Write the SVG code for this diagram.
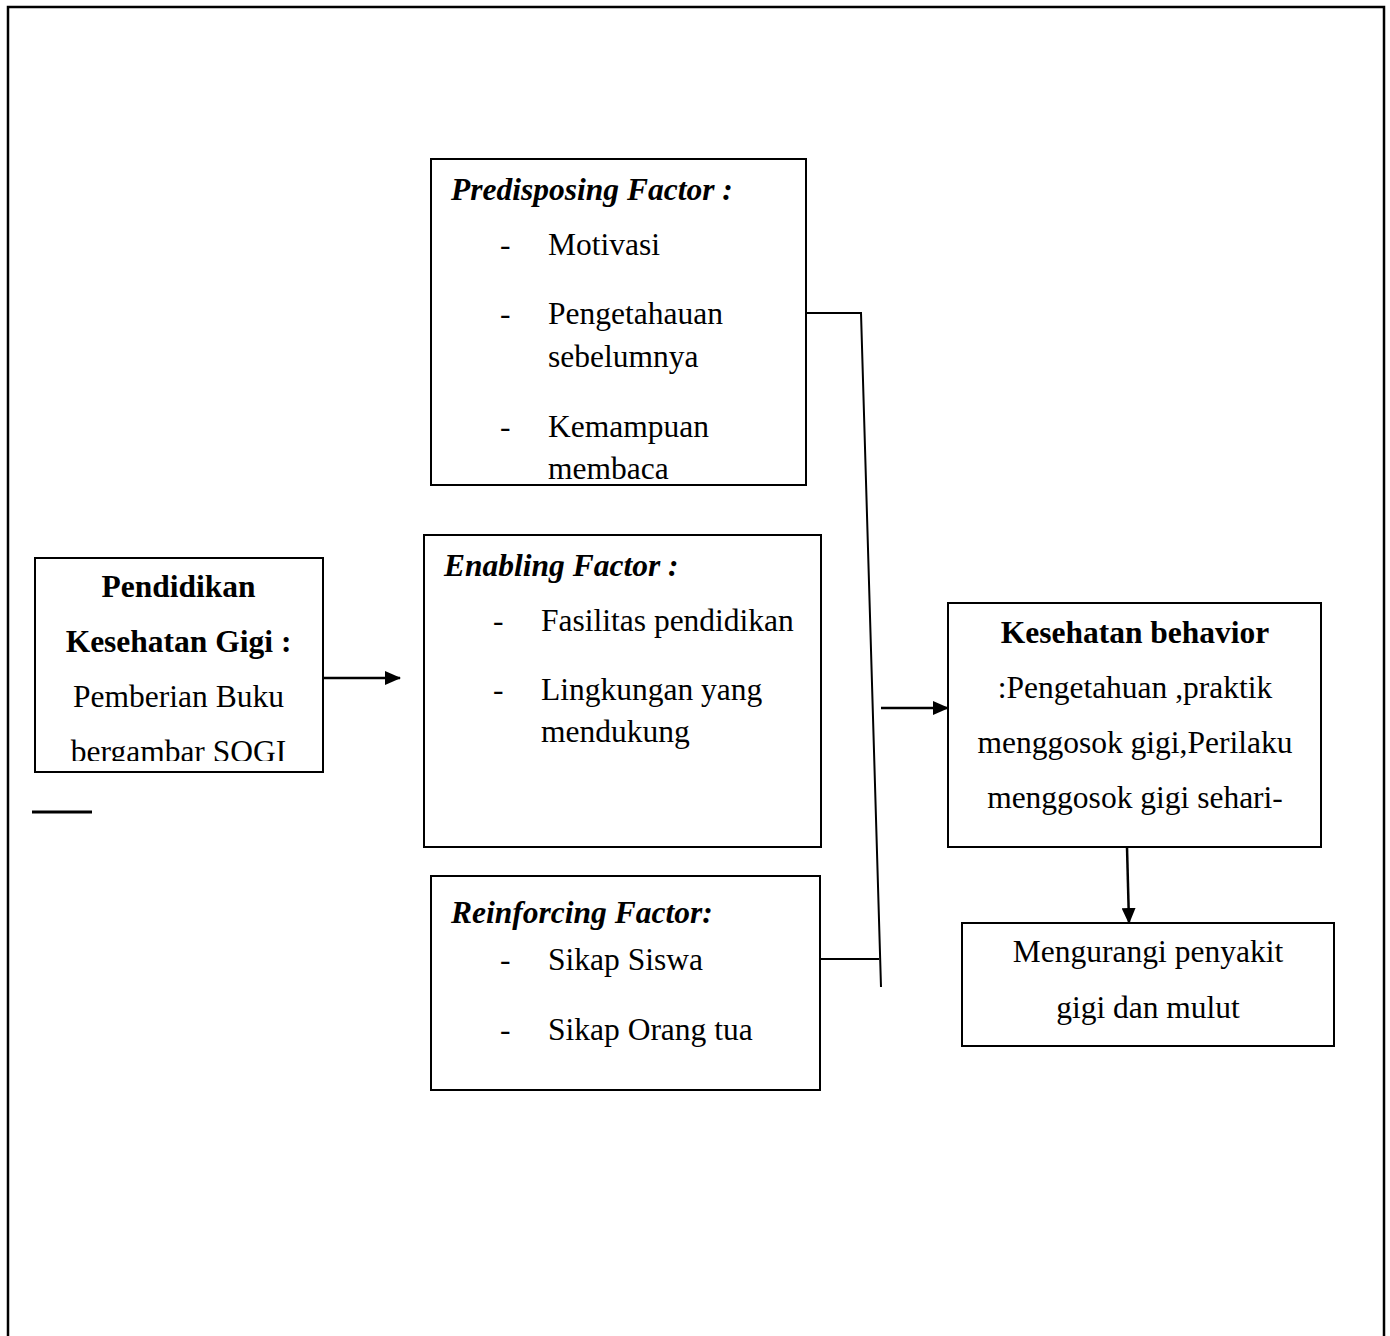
<svg xmlns="http://www.w3.org/2000/svg" width="1390" height="1336" viewBox="0 0 1390 1336">
<style>
.box{fill:#fff;stroke:#000;stroke-width:2}
.ln{fill:none;stroke:#000;stroke-width:2}
.ar{fill:none;stroke:#000;stroke-width:2.5}
text{font-family:"Liberation Serif","Times New Roman",serif;font-size:31.5px;fill:#000}
.b{font-weight:bold}
.bi{font-weight:bold;font-style:italic}
.c{text-anchor:middle}
</style>
<defs>
<marker id="ah" markerWidth="16" markerHeight="14" refX="15" refY="7" orient="auto" markerUnits="userSpaceOnUse">
<path d="M0,0 L16,7 L0,14 Z" fill="#000"/>
</marker>
<clipPath id="clipL"><rect x="35" y="558" width="288" height="203"/></clipPath>
</defs>
<rect x="0" y="0" width="1390" height="1336" fill="#fff"/>
<path d="M8,1340 L8,7 L1384,7 L1384,1340" fill="none" stroke="#000" stroke-width="2.5"/>

<g id="connectors">
<line class="ar" x1="323" y1="678" x2="400" y2="678" marker-end="url(#ah)"/>
<line x1="32" y1="812" x2="92" y2="812" stroke="#000" stroke-width="3"/>
<polyline class="ln" points="806,313 861,313 881,987"/>
<line class="ln" x1="821" y1="959" x2="879" y2="959"/>
<line class="ar" x1="881" y1="708" x2="948" y2="708" marker-end="url(#ah)"/>
<line class="ar" x1="1127" y1="847" x2="1129" y2="923" marker-end="url(#ah)"/>
</g>

<g id="node-pendidikan">
<rect class="box" x="35" y="558" width="288" height="214"/>
<g clip-path="url(#clipL)">
<text class="b c" x="178.5" y="597">Pendidikan</text>
<text class="b c" x="178.5" y="652">Kesehatan Gigi :</text>
<text class="c" x="178.5" y="707">Pemberian Buku</text>
<text class="c" x="178.5" y="762">bergambar SOGI</text>
</g>
</g>

<g id="node-predisposing">
<rect class="box" x="431" y="159" width="375" height="326"/>
<text class="bi" x="451" y="200">Predisposing Factor :</text>
<text x="500" y="255">-</text><text x="548" y="255">Motivasi</text>
<text x="500" y="324">-</text><text x="548" y="324">Pengetahauan</text>
<text x="548" y="367">sebelumnya</text>
<text x="500" y="437">-</text><text x="548" y="437">Kemampuan</text>
<text x="548" y="479">membaca</text>
</g>

<g id="node-enabling">
<rect class="box" x="424" y="535" width="397" height="312"/>
<text class="bi" x="444" y="576">Enabling Factor :</text>
<text x="493" y="631">-</text><text x="541" y="631">Fasilitas pendidikan</text>
<text x="493" y="700">-</text><text x="541" y="700">Lingkungan yang</text>
<text x="541" y="742">mendukung</text>
</g>

<g id="node-reinforcing">
<rect class="box" x="431" y="876" width="389" height="214"/>
<text class="bi" x="451" y="923">Reinforcing Factor:</text>
<text x="500" y="970">-</text><text x="548" y="970">Sikap Siswa</text>
<text x="500" y="1040">-</text><text x="548" y="1040">Sikap Orang tua</text>
</g>

<g id="node-kesehatan">
<rect class="box" x="948" y="603" width="373" height="244"/>
<text class="b c" x="1135" y="643">Kesehatan behavior</text>
<text class="c" x="1135" y="698">:Pengetahuan ,praktik</text>
<text class="c" x="1135" y="753">menggosok gigi,Perilaku</text>
<text class="c" x="1135" y="808">menggosok gigi sehari-</text>
</g>

<g id="node-mengurangi">
<rect class="box" x="962" y="923" width="372" height="123"/>
<text class="c" x="1148" y="962">Mengurangi penyakit</text>
<text class="c" x="1148" y="1018">gigi dan mulut</text>
</g>
</svg>
